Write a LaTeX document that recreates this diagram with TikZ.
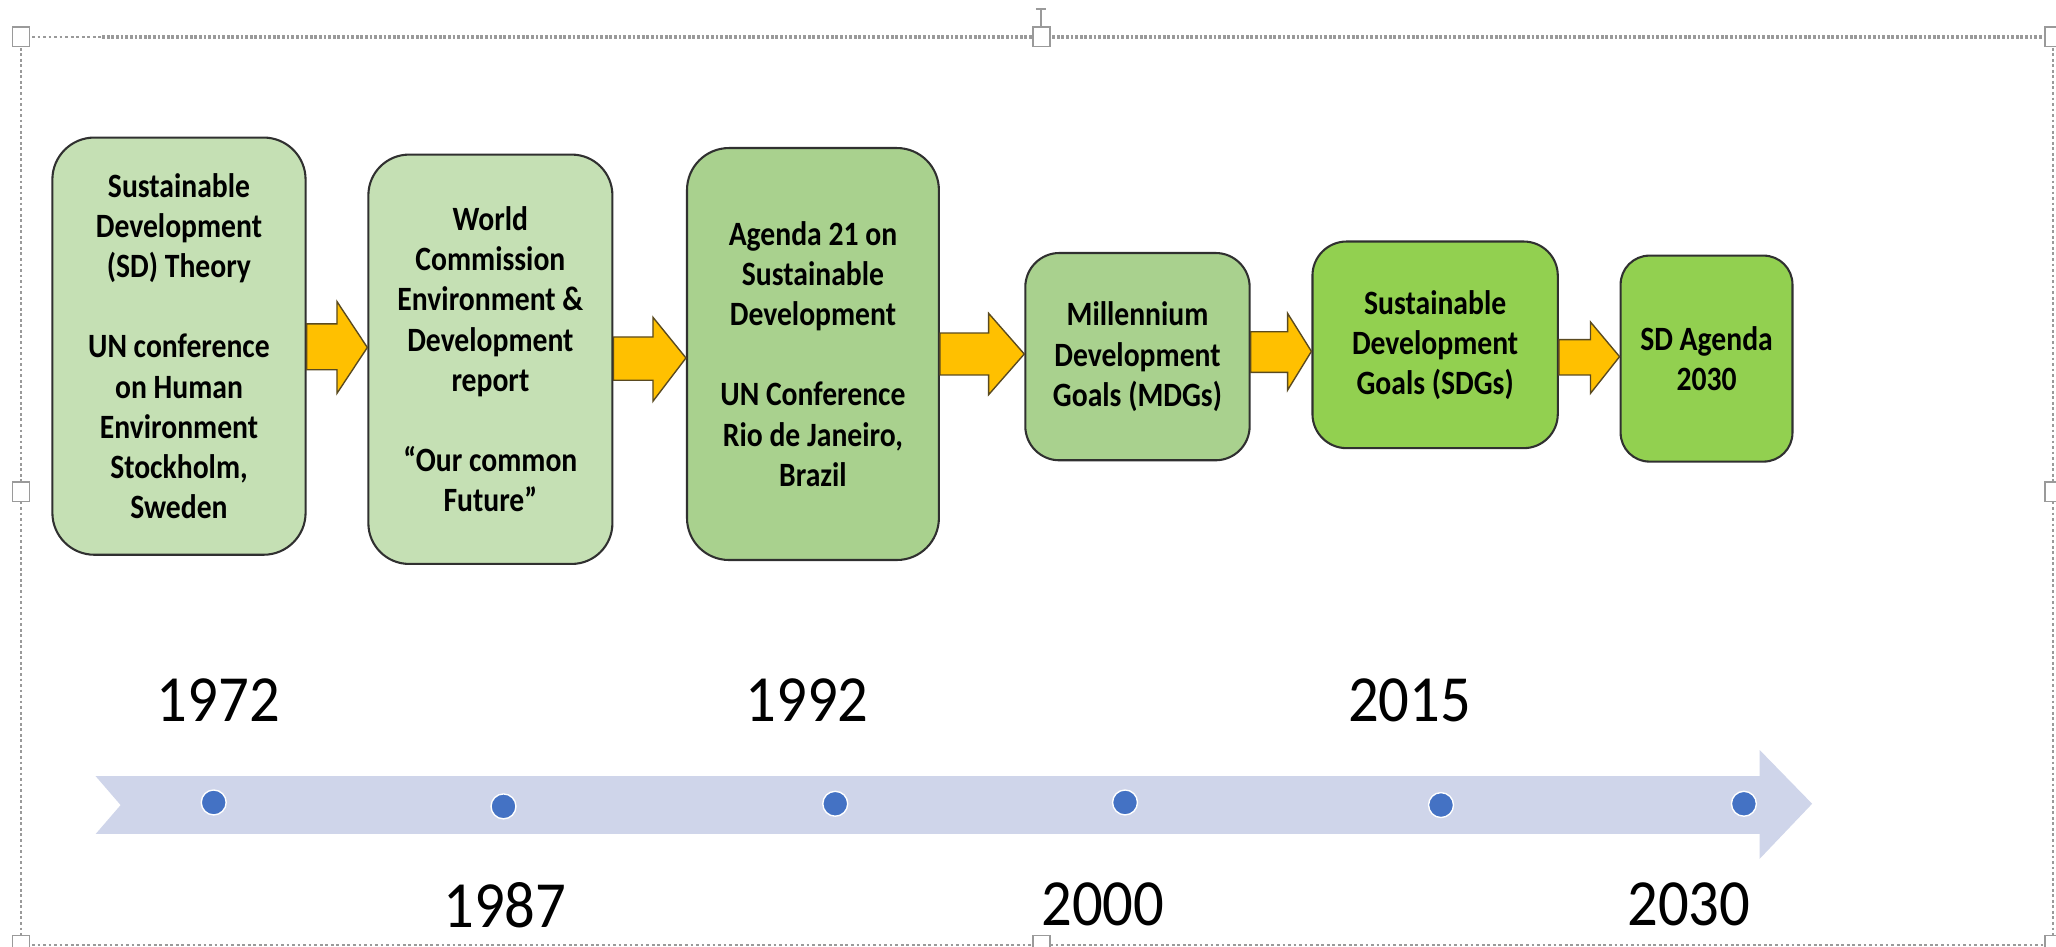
\documentclass[tikz,border=0pt]{standalone}
\usepackage{fontspec}
\newfontfamily\boxfont[FakeStretch=0.87]{Carlito}
\newfontfamily\yearfont[FakeStretch=0.92]{Carlito}
\usetikzlibrary{calc}
\definecolor{gA}{HTML}{C5E0B4}
\definecolor{gB}{HTML}{A9D18E}
\definecolor{gC}{HTML}{92D050}
\definecolor{arrowfill}{HTML}{FFC000}
\definecolor{arrowedge}{HTML}{5A4A20}
\definecolor{lineblue}{HTML}{CFD5EA}
\definecolor{dotblue}{HTML}{4472C4}
\definecolor{edge}{HTML}{303030}
\definecolor{framegray}{HTML}{9A9A9A}
\begin{document}
\begin{tikzpicture}[x=0.01cm, y=-0.01cm,
  stage/.style={draw=edge, line width=0.45pt, align=center, inner sep=0pt,
    font=\boxfont\bfseries\fontsize{7.39pt}{8.7pt}\selectfont, text=black},
  blockarrow/.style={fill=arrowfill, draw=arrowedge, line width=0.3pt, line join=miter},
  year/.style={font=\yearfont\fontsize{14.3pt}{17pt}\selectfont, inner sep=0pt, anchor=center, text=black},
  dot/.style={circle, fill=dotblue, draw=white, line width=0.3pt, minimum size=0.19cm, inner sep=0pt},
  handle/.style={draw=framegray, fill=white, minimum width=0.13cm, minimum height=0.15cm, inner sep=0pt, line width=0.4pt},
  frameline/.style={draw=framegray, line width=0.4pt, dash pattern=on 0.6pt off 0.6pt}]
\useasboundingbox (0,0) rectangle (1568,722);
\fill[white] (0,0) rectangle (1568,722);

% selection frame
\draw[frameline] (16,28) -- (78,28);
\draw[draw=framegray, line width=0.8pt, dash pattern=on 0.6pt off 0.4pt] (78,28) -- (1566,28);
\draw[frameline] (16,28) -- (16,721);
\draw[frameline] (16,721) -- (1566,721);
\draw[frameline] (1566,28) -- (1566,721);
\draw[framegray, line width=0.5pt] (794,7) -- (794,21);
\draw[framegray, line width=0.5pt] (790,7) -- (798,7);
\node[handle] (h1) at (16,28) {};
\node[handle] (h2) at (794,28) {};
\node[handle] (h3) at (1566,28) {};
\node[handle] (h4) at (16,375) {};
\node[handle] (h5) at (1566,375) {};
\node[handle] (h6) at (16,721) {};
\node[handle] (h7) at (794,721) {};
\node[handle] (h8) at (1566,721) {};

% stage boxes
\node[stage, fill=gA, minimum width=1.93cm, minimum height=3.18cm, rounded corners=0.32cm] (b1) at (136.5,264)
  {Sustainable\\Development\\(SD) Theory\\[8.7pt]UN conference\\on Human\\Environment\\Stockholm,\\Sweden};
\node[stage, fill=gA, minimum width=1.86cm, minimum height=3.12cm, rounded corners=0.31cm] (b2) at (374,274)
  {World\\Commission\\Environment \&\\Development\\report\\[8.7pt]“Our common\\Future”};
\node[stage, fill=gB, minimum width=1.92cm, minimum height=3.14cm, rounded corners=0.32cm] (b3) at (620,270)
  {Agenda 21 on\\Sustainable\\Development\\[8.7pt]UN Conference\\Rio de Janeiro,\\Brazil};
\node[stage, fill=gB, minimum width=1.71cm, minimum height=1.58cm, rounded corners=0.26cm] (b4) at (867.5,272)
  {Millennium\\Development\\Goals (MDGs)};
\node[stage, fill=gC, minimum width=1.87cm, minimum height=1.575cm, rounded corners=0.26cm] (b5) at (1094.5,263)
  {Sustainable\\Development\\Goals (SDGs)};
\node[stage, fill=gC, minimum width=1.31cm, minimum height=1.57cm, rounded corners=0.22cm] (b6) at (1301.5,273.5)
  {SD Agenda\\2030};

% block arrows between boxes
\draw[blockarrow] (b1.east |- 0,247) -- (257,247) -- (257,230) -- (b2.west |- 0,265) -- (257,300) -- (257,282) -- (b1.east |- 0,282) -- cycle;
\draw[blockarrow] (b2.east |- 0,257) -- (498,257) -- (498,242) -- (b3.west |- 0,273) -- (498,306) -- (498,290) -- (b2.east |- 0,290) -- cycle;
\draw[blockarrow] (b3.east |- 0,254) -- (754,254) -- (754,239) -- (b4.west |- 0,270) -- (754,301) -- (754,286) -- (b3.east |- 0,286) -- cycle;
\draw[blockarrow] (b4.east |- 0,253) -- (982,253) -- (982,239) -- (b5.west |- 0,268) -- (982,297.5) -- (982,284) -- (b4.east |- 0,284) -- cycle;
\draw[blockarrow] (b5.east |- 0,259) -- (1213,259) -- (1213,245.6) -- (b6.west |- 0,272) -- (1213,300) -- (1213,286) -- (b5.east |- 0,286) -- cycle;

% timeline
\fill[lineblue] (73,592) -- (1342,592) -- (1342,572) -- (1382,613) -- (1342,655) -- (1342,636) -- (73,636) -- (92,614) -- cycle;
\node[dot] (d1) at (163,612) {};
\node[dot] (d2) at (384,615) {};
\node[dot] (d3) at (637,613) {};
\node[dot] (d4) at (858,612) {};
\node[dot] (d5) at (1099,614) {};
\node[dot] (d6) at (1330,613) {};

% years
\node[year] (y1972) at (166.6,534) {1972};
\node[year] (y1992) at (615.5,534) {1992};
\node[year] (y2015) at (1075,534) {2015};
\node[year] (y1987) at (385,690) {1987};
\node[year] (y2000) at (841,690) {2000};
\node[year] (y2030) at (1288,690) {2030};
\end{tikzpicture}
\end{document}
